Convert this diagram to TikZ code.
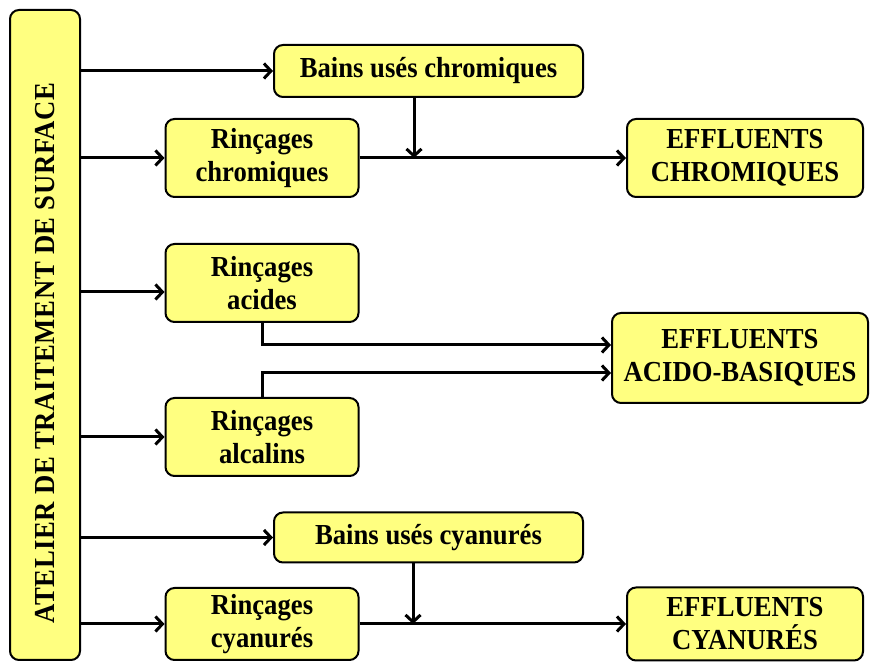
\documentclass[tikz,border=0pt]{standalone}
\usepackage{fontspec}
\setmainfont{Liberation Serif}[FakeStretch=0.92]
\usetikzlibrary{arrows.meta}
\definecolor{boxyellow}{HTML}{FFFF80}
\tikzset{
  box/.style={draw, line width=2pt, rounded corners=9pt, fill=boxyellow, align=center, inner sep=0pt, font=\fontsize{29}{33}\selectfont\bfseries},
  flow/.style={line width=3pt, -{Straight Barb[length=7pt,width=15pt]}}
}

\begin{document}
\begin{tikzpicture}[x=1pt,y=1pt]
\useasboundingbox (0,0) rectangle (873,664);

\node[box, rotate=90, minimum width=650pt, minimum height=70pt] (atelier) at (45,329) {\hspace*{-36pt}\addfontfeature{LetterSpace=2}ATELIER DE TRAITEMENT DE SURFACE};

\node[box, minimum width=309pt, minimum height=52pt] (bainschrom) at (428.5,593) {Bains usés chromiques};
\node[box, minimum width=193pt, minimum height=78pt] (rinchrom) at (262,506) {Rinçages\\chromiques};
\node[box, minimum width=236pt, minimum height=78pt] (effchrom) at (745,506) {EFFLUENTS\\CHROMIQUES};

\node[box, minimum width=193pt, minimum height=78pt] (rinacid) at (262,381) {Rinçages\\acides};
\node[box, minimum width=256pt, minimum height=90pt] (effacid) at (740,306) {EFFLUENTS\\ACIDO-BASIQUES};
\node[box, minimum width=193pt, minimum height=78pt] (rinalc) at (262,227) {Rinçages\\alcalins};

\node[box, minimum width=309pt, minimum height=50pt] (bainscyan) at (428.5,126.5) {Bains usés cyanurés};
\node[box, minimum width=193pt, minimum height=72pt] (rincyan) at (262,40) {Rinçages\\cyanurés};
\node[box, minimum width=236pt, minimum height=73pt] (effcyan) at (745,40) {EFFLUENTS\\CYANURÉS};

% sorties de l'atelier
\coordinate (acidin) at ([yshift=-9pt]rinacid.west);
\draw[flow] (atelier.south |- bainschrom.west) -- (bainschrom.west);
\draw[flow] (atelier.south |- rinchrom.west) -- (rinchrom.west);
\draw[flow] (atelier.south |- acidin) -- (acidin);
\draw[flow] (atelier.south |- rinalc.west) -- (rinalc.west);
\draw[flow] (atelier.south |- bainscyan.west) -- (bainscyan.west);
\draw[flow] (atelier.south |- rincyan.west) -- (rincyan.west);

% chromiques
\coordinate (jchrom) at (414,506);
\draw[flow] (bainschrom.south -| jchrom) -- (jchrom);
\draw[flow] (rinchrom.east) -- (effchrom.west);

% acido-basiques
\draw[flow] (rinacid.south) |- ([yshift=13pt]effacid.west);
\draw[flow] (rinalc.north) |- ([yshift=-15pt]effacid.west);

% cyanures
\coordinate (jcyan) at (413,40);
\draw[flow] (bainscyan.south -| jcyan) -- (jcyan);
\draw[flow] (rincyan.east) -- (effcyan.west);
\end{tikzpicture}
\end{document}
